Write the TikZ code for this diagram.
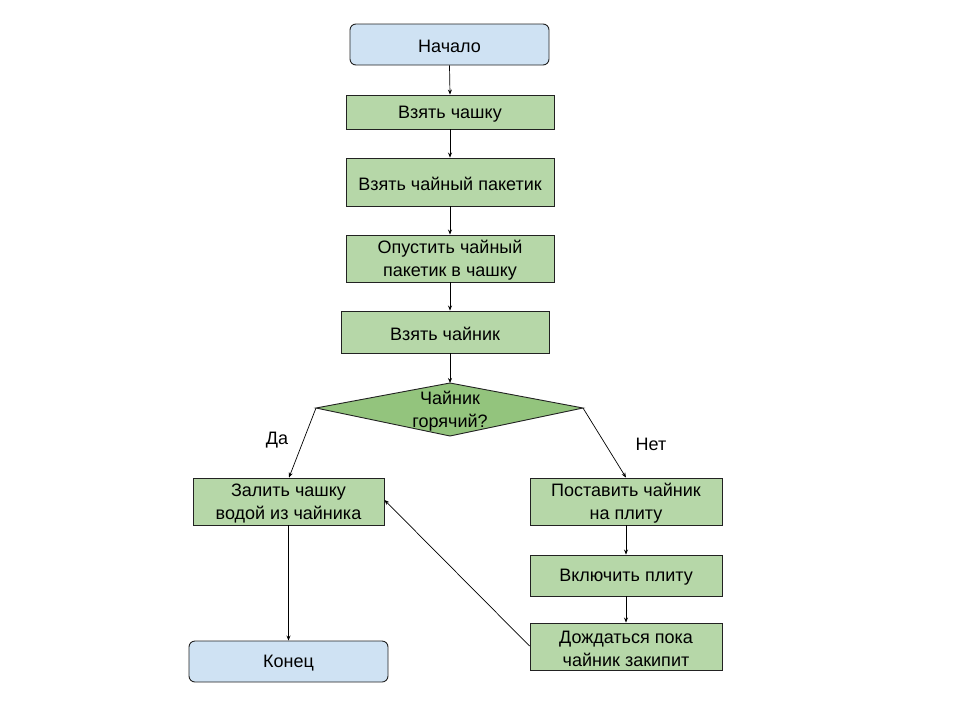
\documentclass[tikz,border=0pt]{standalone}
\usepackage{fontspec}
\setmainfont{Liberation Sans}
\usetikzlibrary{arrows.meta,shapes.geometric}
\definecolor{gfill}{HTML}{B6D7A8}
\definecolor{dfill}{HTML}{93C47D}
\definecolor{bfill}{HTML}{CFE2F3}
\definecolor{edge}{HTML}{222222}
\begin{document}
\begin{tikzpicture}[x=1pt,y=-1pt,
  every node/.style={font=\fontsize{18}{23}\selectfont, align=center, inner sep=0pt},
  every label/.style={font=\fontsize{18}{23}\selectfont, align=center, inner sep=0pt},
  txt/.style={label={[yshift=-2pt]center:{#1}}},
  proc/.style={draw=edge, line width=0.9pt, fill=gfill},
  term/.style={draw=edge, line width=0.9pt, fill=bfill, rounded corners=6pt},
  conn/.style={draw=black, line width=0.7pt, -{Stealth[length=5pt,width=4pt]}}]
\useasboundingbox (0,0) rectangle (960,720);
% terminals
\node[term, minimum width=199pt, minimum height=41pt, txt={Начало}] (start) at (449.5,44.5) {};
\node[term, minimum width=199pt, minimum height=41pt, txt={Конец}] (end) at (288.5,661.5) {};
% process boxes
\node[proc, minimum width=208pt, minimum height=34pt, txt={Взять чашку}] (cup) at (450,112) {};
\node[proc, minimum width=208pt, minimum height=48pt, txt={Взять чайный пакетик}] (bag) at (450,182) {};
\node[proc, minimum width=208pt, minimum height=47pt, txt={Опустить чайный\\пакетик в чашку}] (put) at (450,258.5) {};
\node[proc, minimum width=208pt, minimum height=42pt, txt={Взять чайник}] (kettle) at (445,332) {};
% decision
\draw[draw=edge, line width=0.9pt, fill=dfill] (316,408) -- (450,383) -- (583,408) -- (450,436) -- cycle;
\coordinate (dtop) at (450,383);
\coordinate (dleft) at (316,408);
\coordinate (dright) at (583,408);
\node (q) at (450,411) {Чайник\\горячий?};
% branches
\node[proc, minimum width=191pt, minimum height=47pt, txt={Залить чашку\\водой из чайника}] (pour) at (288.5,501.5) {};
\node[proc, minimum width=192pt, minimum height=47pt, txt={Поставить чайник\\на плиту}] (stove) at (626,501.5) {};
\node[proc, minimum width=192pt, minimum height=41pt, txt={Включить плиту}] (on) at (626,575.5) {};
\node[proc, minimum width=192pt, minimum height=47pt, txt={Дождаться пока\\чайник закипит}] (wait) at (626,646.5) {};
% labels
\node (yes) at (277,440) {Да};
\node (no) at (651,444) {Нет};
% connectors
\draw[conn] (start.south) -- (cup.north);
\draw[conn] (cup.south) -- (bag.north);
\draw[conn] (bag.south) -- (put.north);
\draw[conn] (put.south) -- (put.south |- kettle.north);
\draw[conn] (kettle.south -| dtop) -- (dtop);
\draw[conn] (dleft) -- ([xshift=0.5pt]pour.north);
\draw[conn] (dright) -- (stove.north);
\draw[conn] (pour.south) -- (end.north);
\draw[conn] (stove.south) -- (on.north);
\draw[conn] (on.south) -- (wait.north);
\draw[conn] ([yshift=0.5pt]wait.west) -- ([yshift=1.5pt]pour.east);
\end{tikzpicture}
\end{document}
